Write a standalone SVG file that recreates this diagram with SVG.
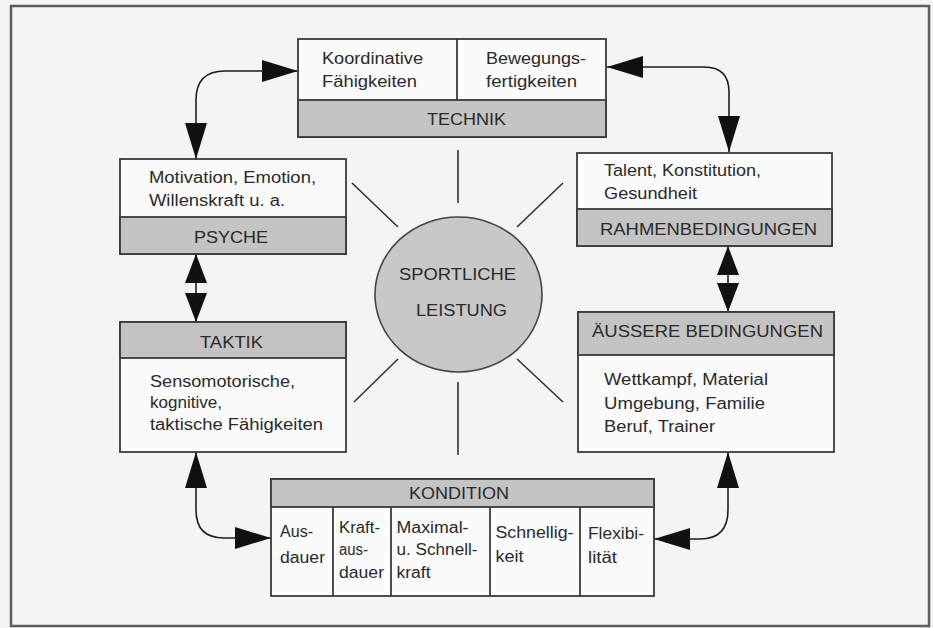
<svg xmlns="http://www.w3.org/2000/svg" width="933" height="628" viewBox="0 0 933 628">
<defs>
<style>
.bg{fill:#f4f5f3}
.frame{fill:none;stroke:#5e5e5e;stroke-width:2.5}
.box{fill:#fbfbfb;stroke:#3a3a3a;stroke-width:1.8}
.band{fill:#c4c4c4;stroke:#3a3a3a;stroke-width:1.8}
.div{stroke:#3a3a3a;stroke-width:1.8;fill:none}
.ray{stroke:#333;stroke-width:1.6;fill:none}
.con{stroke:#1e1e1e;stroke-width:1.6;fill:none}
.ah{marker-start:url(#head);marker-end:url(#head)}
.ahs{marker-start:url(#heads);marker-end:url(#heads)}
text{font-family:"Liberation Sans",Arial,sans-serif;font-size:16px;fill:#2a2a2a}
</style>
<marker id="head" markerUnits="userSpaceOnUse" viewBox="0 0 36 22" markerWidth="36" markerHeight="22" refX="36" refY="11" orient="auto-start-reverse">
<path d="M0,0 L36,11 L0,22 Z" fill="#111"/>
</marker>
<marker id="heads" markerUnits="userSpaceOnUse" viewBox="0 0 29 22" markerWidth="29" markerHeight="22" refX="29" refY="11" orient="auto-start-reverse">
<path d="M0,0 L29,11 L0,22 Z" fill="#111"/>
</marker>
</defs>
<rect class="bg" x="0" y="0" width="933" height="628"/>
<rect class="frame" x="11" y="6" width="918" height="620"/>

<g id="connectors">
<path class="con ah" d="M298,71 L225,71 Q196,71 196,100 L196,159"/>
<path class="con ah" d="M607,67 L704,67 Q729,67 729,92 L729,152"/>
<path class="con ahs" d="M196,254 L196,322"/>
<path class="con ahs" d="M728,246 L728,312"/>
<path class="con ah" d="M196,452 L196,510 Q196,538 224,538 L271,538"/>
<path class="con ah" d="M728,452 L728,510 Q728,539 700,539 L654,539"/>
</g>

<g id="rays">
<line class="ray" x1="458" y1="150" x2="458" y2="203"/>
<line class="ray" x1="458" y1="382" x2="458" y2="455"/>
<line class="ray" x1="352" y1="183" x2="398" y2="227"/>
<line class="ray" x1="563" y1="183" x2="517" y2="227"/>
<line class="ray" x1="398" y1="359" x2="354" y2="402"/>
<line class="ray" x1="517" y1="359" x2="563" y2="402"/>
</g>

<g id="leistung">
<ellipse cx="458.5" cy="294.5" rx="83.5" ry="77.5" fill="#c8c8c8" stroke="#444" stroke-width="1.6"/>
<text x="399" y="280" textLength="117" lengthAdjust="spacingAndGlyphs">SPORTLICHE</text>
<text x="416" y="316" textLength="91" lengthAdjust="spacingAndGlyphs">LEISTUNG</text>
</g>

<g id="technik">
<rect class="box" x="298" y="39" width="308" height="98"/>
<rect class="band" x="298" y="100" width="308" height="37"/>
<line class="div" x1="457" y1="39" x2="457" y2="100"/>
<text x="322" y="64" textLength="101" lengthAdjust="spacingAndGlyphs">Koordinative</text>
<text x="322" y="87" textLength="95" lengthAdjust="spacingAndGlyphs">Fähigkeiten</text>
<text x="486" y="64" textLength="100" lengthAdjust="spacingAndGlyphs">Bewegungs-</text>
<text x="486" y="87" textLength="91" lengthAdjust="spacingAndGlyphs">fertigkeiten</text>
<text x="427" y="125" textLength="79" lengthAdjust="spacingAndGlyphs">TECHNIK</text>
</g>

<g id="psyche">
<rect class="box" x="120" y="159" width="226" height="95"/>
<rect class="band" x="120" y="217" width="226" height="37"/>
<text x="149" y="182.5" textLength="167" lengthAdjust="spacingAndGlyphs">Motivation, Emotion,</text>
<text x="149" y="206" textLength="136" lengthAdjust="spacingAndGlyphs">Willenskraft u. a.</text>
<text x="194" y="243" textLength="74" lengthAdjust="spacingAndGlyphs">PSYCHE</text>
</g>

<g id="taktik">
<rect class="box" x="120" y="322" width="226" height="130"/>
<rect class="band" x="120" y="322" width="226" height="36"/>
<text x="200" y="348" textLength="63" lengthAdjust="spacingAndGlyphs">TAKTIK</text>
<text x="150" y="387" textLength="145" lengthAdjust="spacingAndGlyphs">Sensomotorische,</text>
<text x="150" y="408" textLength="72" lengthAdjust="spacingAndGlyphs">kognitive,</text>
<text x="150" y="430" textLength="173" lengthAdjust="spacingAndGlyphs">taktische Fähigkeiten</text>
</g>

<g id="rahmen">
<rect class="box" x="577" y="153" width="255" height="93"/>
<rect class="band" x="577" y="209" width="255" height="37"/>
<text x="604" y="176" textLength="157" lengthAdjust="spacingAndGlyphs">Talent, Konstitution,</text>
<text x="604" y="199" textLength="93" lengthAdjust="spacingAndGlyphs">Gesundheit</text>
<text x="600" y="235" textLength="217" lengthAdjust="spacingAndGlyphs">RAHMENBEDINGUNGEN</text>
</g>

<g id="aeussere">
<rect class="box" x="578" y="312" width="256" height="140"/>
<rect class="band" x="578" y="312" width="256" height="43"/>
<text x="592" y="337" textLength="231" lengthAdjust="spacingAndGlyphs">ÄUSSERE BEDINGUNGEN</text>
<text x="604" y="384.5" textLength="164" lengthAdjust="spacingAndGlyphs">Wettkampf, Material</text>
<text x="604" y="409" textLength="161" lengthAdjust="spacingAndGlyphs">Umgebung, Familie</text>
<text x="604" y="431.5" textLength="111" lengthAdjust="spacingAndGlyphs">Beruf, Trainer</text>
</g>

<g id="kondition">
<rect class="box" x="271" y="479" width="383" height="117"/>
<rect class="band" x="271" y="479" width="383" height="28"/>
<line class="div" x1="333" y1="507" x2="333" y2="596"/>
<line class="div" x1="391" y1="507" x2="391" y2="596"/>
<line class="div" x1="490" y1="507" x2="490" y2="596"/>
<line class="div" x1="580" y1="507" x2="580" y2="596"/>
<text x="409" y="499" textLength="100" lengthAdjust="spacingAndGlyphs">KONDITION</text>
<text x="280" y="537" textLength="33" lengthAdjust="spacingAndGlyphs">Aus-</text>
<text x="280" y="562.5" textLength="45" lengthAdjust="spacingAndGlyphs">dauer</text>
<text x="339" y="533" textLength="41" lengthAdjust="spacingAndGlyphs">Kraft-</text>
<text x="339" y="555" textLength="29" lengthAdjust="spacingAndGlyphs">aus-</text>
<text x="339" y="578" textLength="45" lengthAdjust="spacingAndGlyphs">dauer</text>
<text x="396.5" y="533" textLength="72" lengthAdjust="spacingAndGlyphs">Maximal-</text>
<text x="396.5" y="555" textLength="81" lengthAdjust="spacingAndGlyphs">u. Schnell-</text>
<text x="396.5" y="578" textLength="34" lengthAdjust="spacingAndGlyphs">kraft</text>
<text x="495.5" y="537.5" textLength="78" lengthAdjust="spacingAndGlyphs">Schnellig-</text>
<text x="495.5" y="562" textLength="28" lengthAdjust="spacingAndGlyphs">keit</text>
<text x="588" y="539" textLength="56" lengthAdjust="spacingAndGlyphs">Flexibi-</text>
<text x="588" y="562.5" textLength="29" lengthAdjust="spacingAndGlyphs">lität</text>
</g>
</svg>
